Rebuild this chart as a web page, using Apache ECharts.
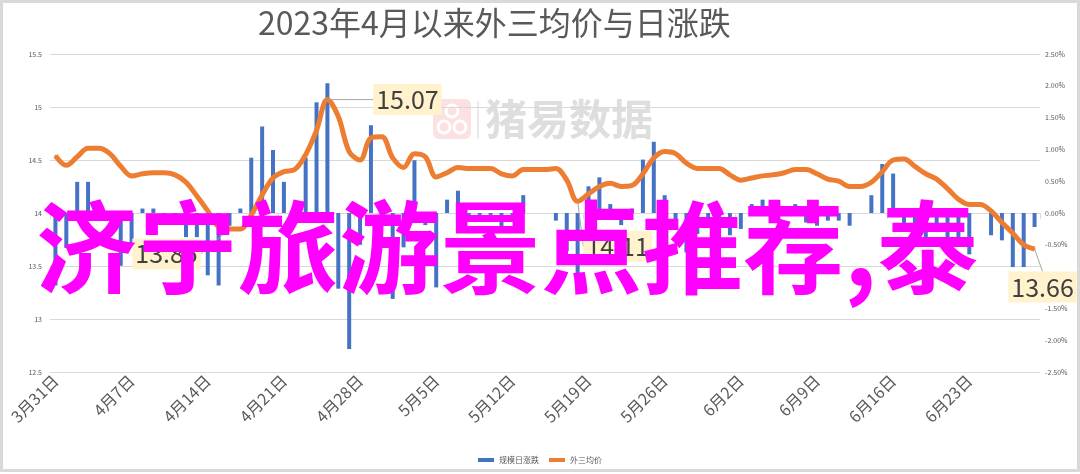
<!DOCTYPE html>
<html><head><meta charset="utf-8">
<script src="https://cdn.jsdelivr.net/npm/echarts@6/dist/echarts.min.js"></script>
<style>html,body{margin:0;padding:0;background:#fff}#c{width:1080px;height:474px}</style>
</head><body><div id="c"></div>
<script>
const dates = ["3月31日",
"4月1日","4月2日","4月3日","4月4日","4月5日","4月6日","4月7日","4月8日","4月9日","4月10日",
"4月11日","4月12日","4月13日","4月14日","4月15日","4月16日","4月17日","4月18日","4月19日","4月20日",
"4月21日","4月22日","4月23日","4月24日","4月25日","4月26日","4月27日","4月28日","4月29日","4月30日",
"5月1日","5月2日","5月3日","5月4日","5月5日","5月6日","5月7日","5月8日","5月9日","5月10日",
"5月11日","5月12日","5月13日","5月14日","5月15日","5月16日","5月17日","5月18日","5月19日","5月20日",
"5月21日","5月22日","5月23日","5月24日","5月25日","5月26日","5月27日","5月28日","5月29日","5月30日","5月31日",
"6月1日","6月2日","6月3日","6月4日","6月5日","6月6日","6月7日","6月8日","6月9日","6月10日",
"6月11日","6月12日","6月13日","6月14日","6月15日","6月16日","6月17日","6月18日","6月19日","6月20日",
"6月21日","6月22日","6月23日","6月24日","6月25日","6月26日","6月27日","6月28日","6月29日"];

// 外三均价 (left axis)
const priceValues = [14.54,14.45,14.53,14.61,14.61,14.56,14.44,14.35,14.37,14.38,
14.38,14.36,14.29,14.16,14.02,13.87,13.85,13.85,13.98,14.17,
14.33,14.39,14.41,14.55,14.78,15.07,14.91,14.58,14.50,14.71,
14.72,14.52,14.43,14.56,14.53,14.34,14.38,14.43,14.42,14.42,
14.42,14.37,14.35,14.41,14.41,14.41,14.42,14.31,14.11,14.18,
14.25,14.28,14.25,14.26,14.37,14.52,14.58,14.56,14.47,14.42,
14.42,14.42,14.36,14.31,14.33,14.35,14.36,14.38,14.41,14.41,
14.37,14.32,14.30,14.25,14.25,14.29,14.39,14.50,14.51,14.44,
14.37,14.32,14.23,14.13,14.08,14.08,14.02,13.91,13.81,13.70,13.66];

// 规模日涨跌 (%, right axis)
const changeValues = [-1.14,-0.55,0.49,0.49,null,null,-0.83,-0.48,0.07,0.07,
-0.03,-0.03,-0.38,-0.38,-0.98,-1.14,-0.20,0.07,0.87,1.36,
0.99,0.49,null,0.87,1.74,2.04,-1.19,-2.14,-0.50,1.38,
-0.10,-1.35,-0.54,0.83,-0.19,-1.17,0.21,0.35,-0.03,-0.03,
-0.03,-0.22,-0.03,0.28,null,null,-0.12,-0.60,-0.98,0.42,
0.56,0.14,-0.19,0.07,0.84,1.12,0.28,-0.20,-0.62,-0.33,
-0.10,-0.10,-0.35,-0.25,0.14,0.21,-0.10,0.10,0.14,-0.15,
-0.20,-0.12,-0.12,-0.20,null,0.28,0.77,0.62,-0.30,-0.40,
-0.40,-0.30,-0.50,-0.50,-0.65,null,-0.35,-0.43,-0.85,-0.85,-0.22];

const seriesNames = ["规模日涨跌", "外三均价"];
const titleText = "2023年4月以来外三均价与日涨跌";
const overlayText = "济宁旅游景点推荐,泰";
const watermarkText = "猪易数据";
const calloutIndices = [25, 16, 48, 90];

const calloutOffsets = {25: [80, 0], 16: [-63, 25], 48: [40, 45], 90: [8, 38]};

const chart = echarts.init(document.getElementById('c'));
const lineData = priceValues.map((v, i) => calloutIndices.includes(i)
  ? {value: v, label: {show: true}} : v);

const FONT = '"Noto Sans CJK SC", "Noto Sans", sans-serif';

chart.setOption({
  animation: false,
  backgroundColor: '#ffffff',
  textStyle: {fontFamily: FONT},
  grid: {left: 50, right: 40, top: 54, bottom: 102},
  legend: {
    bottom: 5, left: 'center', itemWidth: 16, itemHeight: 4, itemGap: 10,
    textStyle: {fontSize: 8, color: '#595959'},
    data: [{name: seriesNames[0], icon: 'rect'}, {name: seriesNames[1], icon: 'rect'}]
  },
  xAxis: {
    type: 'category', data: dates, boundaryGap: true,
    axisLine: {lineStyle: {color: '#d9d9d9', width: 1}},
    axisTick: {show: true, interval: 6, length: 6, lineStyle: {color: '#d9d9d9'}},
    axisLabel: {interval: 6, rotate: 45, fontSize: 16, color: '#595959', margin: 6}
  },
  yAxis: [
    {type: 'value', min: 12.5, max: 15.5, interval: 0.5,
     axisLine: {show: false}, axisTick: {show: false},
     axisLabel: {fontSize: 7, color: '#595959', margin: 8},
     splitLine: {lineStyle: {color: '#d9d9d9', width: 1}}},
    {type: 'value', min: -2.5, max: 2.5, interval: 0.5,
     axisLine: {show: false}, axisTick: {show: false},
     axisLabel: {fontSize: 7, color: '#595959', margin: 5,
       formatter: v => v.toFixed(2) + '%'},
     splitLine: {show: false}}
  ],
  series: [
    {name: seriesNames[0], type: 'bar', yAxisIndex: 1, data: changeValues,
     barWidth: 4, itemStyle: {color: '#4472C4'}, z: 2},
    {name: seriesNames[1], type: 'line', yAxisIndex: 0, data: lineData,
     smooth: 0.35, showSymbol: true, showAllSymbol: true, symbol: 'circle', symbolSize: 2,
     itemStyle: {color: '#ED7D31'},
     lineStyle: {color: '#ED7D31', width: 5}, z: 3,
     label: {show: false, position: 'inside', fontSize: 25, color: '#404040',
       backgroundColor: '#FFF2CC', padding: [4, 3, 2, 3],
       formatter: p => p.value.toFixed(2)},
     labelLine: {show: true, lineStyle: {color: '#a6a6a6', width: 1}},
     labelLayout: function (p) {
       const o = calloutOffsets[p.dataIndex];
       if (!o) return {};
       return {x: p.rect.x + p.rect.width / 2 + o[0], y: p.rect.y + p.rect.height / 2 + o[1],
         align: 'center', verticalAlign: 'middle'};
     }}
  ],
  graphic: [
    {type: 'rect', z: -10, shape: {x: 1.5, y: 1.5, width: 1077, height: 469},
     style: {fill: 'none', stroke: '#d9d9d9', lineWidth: 3}},
    {type: 'text', left: 258, top: 7, z: 10,
     style: {text: titleText, fontSize: 32, fill: '#595959', fontFamily: FONT}},
    {type: 'group', z: 0, children: [
      {type: 'rect', shape: {x: 433, y: 99, width: 38, height: 40, r: 6},
       style: {fill: '#fbe1e1'}},
      {type: 'circle', shape: {cx: 452, cy: 111, r: 6}, style: {fill: 'none', stroke: '#ffffff', lineWidth: 3}},
      {type: 'circle', shape: {cx: 444, cy: 127, r: 6}, style: {fill: 'none', stroke: '#ffffff', lineWidth: 3}},
      {type: 'circle', shape: {cx: 460, cy: 127, r: 6}, style: {fill: 'none', stroke: '#ffffff', lineWidth: 3}},
      {type: 'line', shape: {x1: 478, y1: 101, x2: 478, y2: 139}, style: {stroke: '#e3e3e3', lineWidth: 1.5}},
      {type: 'text', x: 485, y: 119,
       style: {text: watermarkText, fontSize: 42, fontWeight: 'bold', fill: '#dedede',
         fontFamily: FONT, textVerticalAlign: 'middle'}}
    ]},
    {type: 'text', z: 100, x: 507, y: 248,
     style: {text: overlayText, fontSize: 101, fontWeight: 'bold', fill: '#FF00FF',
       fontFamily: FONT, textAlign: 'center', textVerticalAlign: 'middle'}}
  ]
});
</script></body></html>
